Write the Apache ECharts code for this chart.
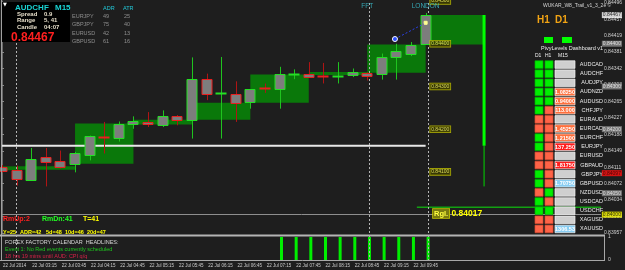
<!DOCTYPE html>
<html><head><meta charset="utf-8">
<script src="https://cdn.jsdelivr.net/npm/echarts@6/dist/echarts.min.js"></script>
<style>html,body{margin:0;padding:0;background:#1e1e1e}#c{width:625px;height:270px}</style>
</head><body><div id="c"></div>
<script>
// ---------- data ----------
const times = ['02:45','03:00','03:15','03:30','03:45','04:00','04:15','04:30','04:45','05:00','05:15','05:30','05:45','06:00','06:15','06:30','06:45','07:00','07:15','07:30','07:45','08:00','08:15','08:30','08:45','09:00','09:15','09:30','09:45','10:00'];
const open  = [0.84111,0.84105,0.84083,0.84135,0.84126,0.84119,0.84140,0.84182,0.84180,0.84211,0.84216,0.84211,0.84232,0.84222,0.84317,0.84283,0.84282,0.84262,0.84296,0.84293,0.84327,0.84330,0.84324,0.84323,0.84326,0.84332,0.84328,0.84368,0.84378,0.84398];
const close = [0.84101,0.84085,0.84131,0.84124,0.84113,0.84145,0.84185,0.84181,0.84213,0.84218,0.84211,0.84232,0.84222,0.84317,0.84283,0.84284,0.84262,0.84293,0.84294,0.84328,0.84328,0.84324,0.84323,0.84324,0.84334,0.84324,0.84368,0.84382,0.84398,0.84467];
const high  = [0.84116,0.84115,0.84156,0.84156,0.84150,0.84147,0.84185,0.84217,0.84218,0.84230,0.84240,0.84244,0.84233,0.84368,0.84330,0.84369,0.84312,0.84293,0.84307,0.84346,0.84340,0.84357,0.84355,0.84357,0.84342,0.84333,0.84377,0.84400,0.84404,0.84472];
const low   = [0.84099,0.84068,0.84082,0.84066,0.84108,0.84099,0.84127,0.84143,0.84171,0.84201,0.84205,0.84205,0.84209,0.84178,0.84268,0.84178,0.84217,0.84248,0.84285,0.84248,0.84317,0.84322,0.84307,0.84307,0.84322,0.84314,0.84316,0.84316,0.84371,0.84398];
const tickLabels = ['22 Jul 2014','22 Jul 03:15','22 Jul 03:45','22 Jul 04:15','22 Jul 04:45','22 Jul 05:15','22 Jul 05:45','22 Jul 06:15','22 Jul 06:45','22 Jul 07:15','22 Jul 07:45','22 Jul 08:15','22 Jul 08:45','22 Jul 09:15','22 Jul 09:45'];
// H1 overlay boxes (start bar index, open, close)
const hourStart = [-3,1,5,9,13,17,21,25,29];
const hourOpen  = [0.84104,0.84105,0.84119,0.84211,0.84222,0.84262,0.84330,0.84332,0.84398];
const hourClose = [0.84113,0.84113,0.84213,0.84222,0.84262,0.84328,0.84334,0.84398,0.84467];
const indicator = [0,0,0,0,0,0,0,0,0,0,0,0,0,0,0,0,0,0,0,1,1,1,1,1,1,1,1,1,1,1];
const roundLevels = [0.845,0.844,0.843,0.842,0.841,0.840];
const levelLabels = [0.845,0.844,0.843,0.842,0.841];
const gridLevels = [0.8445,0.8435,0.8425,0.8415,0.8405];
const bid = 0.84467, dailyOpen = 0.84161, dailyLow = 0.84066, rgl = 0.84017, redLevel = 0.84097;
const axisBoxValues = [bid, 0.844, 0.843, 0.842, redLevel, 0.8405, 0.840];
const axisBoxKinds  = ['w','g','g','g','r','g','y'];
const sessionIdx = [1,25,29];
const sessionNames = ['','FFT','LONDON'];
const trendX = [26.9,29.0], trendY = [0.84411,0.84449];
const dashSymbols = ['AUDCAD','AUDCHF','AUDJPY','AUDNZD','AUDUSD','CHFJPY','EURAUD','EURCAD','EURCHF','EURJPY','EURUSD','GBPAUD','GBPJPY','GBPUSD','NZDUSD','USDCAD','USDCHF','XAGUSD','XAUUSD'];
const dashD1 = [1,1,1,1,1,1,0,0,1,1,0,0,1,1,0,1,1,0,0];
const dashH1 = [1,1,1,1,1,0,0,0,0,0,0,0,0,0,1,0,1,0,0];
const dashM15Text = ['','','','1.08250','0.94000','113.000','','1.45250','1.21500','137.250','','1.81750','','1.70750','','','','','1306.53'];
const dashM15Kind = ['n','n','n','o','o','o','n','o','o','r','n','r','n','b','n','n','n','n','b'];
const infoLabels = ['Spread','Range','Candle'];
const infoValues = ['0.9','5, 41','04:07'];
const adrSymbols = ['EURJPY','GBPJPY','EURUSD','GBPUSD'];
const adrVals = [49,75,42,61];
const atrVals = [25,40,13,16];
const statsTop = ['RmUp:2','RmDn:41','T=41'];
const statsLine = ['Y=25','ADR=42','5d=48','10d=46','20d=47'];
const calendar = ['FOREX FACTORY CALENDAR  HEADLINES:','Event 1: No Red events currently scheduled','18 hrs 19 mins until AUD: CPI q/q'];

// ---------- chart ----------
const F = '"Liberation Sans", Arial, sans-serif';
const chart = echarts.init(document.getElementById('c'), null, {renderer:'canvas', width:625, height:270});

const candleData = times.map((t,i)=>[i, open[i], close[i], low[i], high[i]]);
const hourData = hourStart.map((s,i)=>[s, hourOpen[i], hourClose[i]]);

function renderCandle(params, api){
  const i = api.value(0), o = api.value(1), c = api.value(2), l = api.value(3), h = api.value(4);
  const pO = api.coord([i,o]), pC = api.coord([i,c]), pL = api.coord([i,l]), pH = api.coord([i,h]);
  const bw = Math.round(api.size([1,0])[0]*0.74);
  const bull = c >= o;
  const edge = bull ? '#24e024' : '#e82020';
  const wick = bull ? '#1fc41f' : '#b01414';
  const top = Math.min(pO[1],pC[1]), bot = Math.max(pO[1],pC[1]);
  const cx = Math.round(pO[0]);
  const x0 = cx - bw/2;
  const ch = [{type:'line', shape:{x1:cx+0.5,y1:pH[1],x2:cx+0.5,y2:pL[1]}, style:{stroke:wick,lineWidth:1}}];
  if (bot - top < 1.6) {
    ch.push({type:'line', shape:{x1:x0,y1:Math.round(top)+0.5,x2:x0+bw,y2:Math.round(top)+0.5}, style:{stroke:edge,lineWidth:2}});
  } else {
    ch.push({type:'rect', shape:{x:x0+0.5,y:Math.round(top)+0.5,width:bw-1,height:Math.round(bot-top)}, style:{fill:'#7d7d7d',stroke:edge,lineWidth:1}});
  }
  return {type:'group', children:ch};
}
function renderHour(params, api){
  const s = api.value(0), o = api.value(1), c = api.value(2);
  const a = api.coord([s, Math.max(o,c)]), b = api.coord([s+4, Math.min(o,c)]);
  let shape = {x:a[0], y:a[1], width:b[0]-a[0], height:Math.max(b[1]-a[1],3)};
  shape = echarts.graphic.clipRectByRect(shape, {x:params.coordSys.x, y:params.coordSys.y, width:params.coordSys.width, height:params.coordSys.height});
  return shape ? {type:'rect', shape, style:{fill:'#0a780a'}} : null;
}
const kindFill = {n:'#cfcfcf', o:'#ff6f3c', r:'#ff1c1c', b:'#88cdf2'};
function renderDash(params, api){
  const i = params.dataIndex;
  const yc = api.coord([0,i])[1];
  const rh = 7.6, y0 = yc - rh/2;
  const X = v => api.coord([v,i])[0];
  const cell = (a,b,fill,stroke) => ({type:'rect', shape:{x:X(a),y:y0,width:X(b)-X(a),height:rh}, style:{fill, stroke, lineWidth:0.7}});
  const ch = [
    cell(0.1,0.9, dashD1[i] ? '#00ee00' : '#ff6347', dashD1[i] ? '#00b000' : '#d84a30'),
    cell(1.1,1.9, dashH1[i] ? '#00ee00' : '#ff6347', dashH1[i] ? '#00b000' : '#d84a30'),
    cell(2.1,4.1, kindFill[dashM15Kind[i]], '#f4f4f4')
  ];
  if (dashM15Text[i]) ch.push({type:'text', x:(X(2.1)+X(4.1))/2, y:yc+0.5, style:{text:dashM15Text[i], fill:'#ffffff', fontSize:5.5, fontWeight:'bold', fontFamily:F, align:'center', verticalAlign:'middle'}});
  return {type:'group', children:ch};
}

const levelMarks = [];
gridLevels.forEach(v => levelMarks.push({yAxis:v, lineStyle:{color:'#6c6c6c', type:[2,2], width:1}}));
const gridMarkCount = levelMarks.length;
roundLevels.forEach(v => levelMarks.push({yAxis:v, lineStyle:{color:'#c4bc00', type:[2,2], width:1}}));
levelMarks.push({yAxis:redLevel, lineStyle:{color:'#c01010', type:[1,2], width:1}});
levelMarks.push({yAxis:bid, lineStyle:{color:'#8e8e8e', type:'solid', width:1}});

const boxStyle = {w:['#ffffff','#000000'], g:['#8c8c8c','#f4f4f4'], r:['#ff1010','#300000'], y:['#ffff00','#000000']};

// ---------- graphics (text & frames) ----------
const g = [];
const txt = (x,y,text,size,color,extra) => g.push({type:'text', x, y, z:60, silent:true, style:Object.assign({text, fontSize:size, fill:color, fontFamily:F, align:'left', verticalAlign:'middle'}, extra||{})});
g.push({type:'rect', z:55, silent:true, shape:{x:2,y:2,width:68,height:40}, style:{fill:'#000000'}});
g.push({type:'line', z:58, silent:true, shape:{x1:1.5,y1:0,x2:1.5,y2:261}, style:{stroke:'#a0a0a0',lineWidth:1}});
g.push({type:'rect', z:58, silent:true, shape:{x:0,y:234.5,width:605,height:2}, style:{fill:'#b4b4b4'}});
g.push({type:'line', z:58, silent:true, shape:{x1:0,y1:260.5,x2:605,y2:260.5}, style:{stroke:'#a8a8a8',lineWidth:1}});
g.push({type:'line', z:58, silent:true, shape:{x1:604.5,y1:236,x2:604.5,y2:261}, style:{stroke:'#a8a8a8',lineWidth:1}});
txt(3,4.5,'▼',5,'#ffffff',{fontFamily:'DejaVu Sans'});
txt(15,7.5,'AUDCHF',8,'#19d4d4',{fontWeight:'bold'});
txt(55,7.5,'M15',8,'#19d4d4',{fontWeight:'bold'});
infoLabels.forEach((t,i)=>{ txt(17,14+i*6.6,t,6,'#e4dcc8',{fontWeight:'bold'}); txt(44,14+i*6.6,infoValues[i],6,'#e4dcc8',{fontWeight:'bold'}); });
txt(11,37.5,bid.toFixed(5),12,'#ff2020',{fontWeight:'bold'});
txt(103,8,'ADR',5.5,'#22c8d8'); txt(123,8,'ATR',5.5,'#22c8d8');
adrSymbols.forEach((s,i)=>{ const y=16+i*8.6; txt(72,y,s,5.5,'#8e8e8e'); txt(103,y,String(adrVals[i]),5.5,'#8e8e8e'); txt(124,y,String(atrVals[i]),5.5,'#8e8e8e'); });
txt(543,6,'WUKAR_W8_Trail_v1_3_2e ©',5,'#d4d4d4');
txt(537,20,'H1',10,'#f2a414',{fontWeight:'bold'}); txt(555,20,'D1',10,'#f2a414',{fontWeight:'bold'});
g.push({type:'rect', z:60, silent:true, shape:{x:544,y:37,width:9,height:6}, style:{fill:'#00ff00'}});
g.push({type:'rect', z:60, silent:true, shape:{x:562,y:37,width:10,height:6}, style:{fill:'#00ff00'}});
txt(541,48,'PivyLevels Dashboard v1',5.5,'#ececec');
txt(535,55.5,'D1',5,'#f0f0f0'); txt(545,55.5,'H1',5,'#f0f0f0'); txt(558,55.5,'M15',5,'#f0f0f0');
txt(3,219,statsTop[0],7,'#ff2020',{fontWeight:'bold'});
txt(42,219,statsTop[1],7,'#22ff22',{fontWeight:'bold'});
txt(83,219,statsTop[2],7,'#ffff00',{fontWeight:'bold'});
[3,20,46,65,87].forEach((x,i)=>txt(x,232,statsLine[i],5.5,'#ffff00',{fontWeight:'bold'}));
txt(5,242.3,calendar[0],5.5,'#d8d8d8');
txt(5,249,calendar[1],5.5,'#1ec81e');
txt(5,256,calendar[2],5.5,'#d82048');
txt(433,213.5,'{a|Rgl.} {b|'+rgl.toFixed(5)+'}',8,'#ffff00',{rich:{a:{fontSize:7.5,fontWeight:'bold',fill:'#ffff40',backgroundColor:'#7a7a10',borderColor:'#c8c800',borderWidth:0.8,padding:[1,1,0,1],fontFamily:F},b:{fontSize:8.5,fontWeight:'bold',fill:'#ffff00',fontFamily:F}}});

const option = {
  backgroundColor:'#1e1e1e',
  animation:false,
  grid:[
    {left:2, top:1, width:602, height:232},
    {left:2, top:237, width:602, height:23},
    {left:2, top:1, width:602, height:260},
    {left:534, top:60, width:42, height:173.5}
  ],
  xAxis:[
    {gridIndex:0, type:'value', min:0, max:41, show:false},
    {gridIndex:1, type:'value', min:0, max:41, interval:2, axisLine:{show:false}, axisTick:{show:false}, splitLine:{show:false},
      axisLabel:{show:true, margin:3, align:'left', fontSize:4.5, color:'#cccccc', fontFamily:F,
        formatter:v=>{const k=Math.round(v/2); return (Math.abs(v-2*k)<1e-6 && tickLabels[k]) ? tickLabels[k] : '';}}},
    {gridIndex:2, type:'value', min:0, max:41, show:false},
    {gridIndex:3, type:'value', min:0, max:4.2, show:false}
  ],
  yAxis:[
    {gridIndex:0, type:'value', position:'right', min:0.83957, max:0.845, interval:0.000385, splitLine:{show:false},
      axisLine:{show:true, lineStyle:{color:'#6a6a6a'}}, axisTick:{show:true, length:2, lineStyle:{color:'#8a8a8a'}},
      axisLabel:{margin:3, fontSize:5, color:'#d0d0d0', fontFamily:F, showMaxLabel:false, formatter:v=>v.toFixed(5)}},
    {gridIndex:1, type:'value', position:'right', min:0, max:1, interval:1, splitLine:{show:false},
      axisLine:{show:false}, axisTick:{show:false}, axisLabel:{margin:4, fontSize:5, color:'#d0d0d0', fontFamily:F}},
    {gridIndex:2, type:'value', min:0, max:1, show:false},
    {gridIndex:3, type:'category', inverse:true, data:dashSymbols, position:'right',
      axisLine:{show:false}, axisTick:{show:false}, splitLine:{show:false},
      axisLabel:{interval:0, align:'right', margin:27, fontSize:5.5, color:'#e8e8e8', fontFamily:F}}
  ],
  series:[
    {type:'line', xAxisIndex:0, yAxisIndex:0, z:1, clip:false, data:[[0,bid]], showSymbol:false, symbol:'none', lineStyle:{opacity:0},
      markLine:{silent:true, symbol:['none','none'], animation:false, label:{show:false}, data:levelMarks.slice(0,gridMarkCount)}},
    {type:'custom', xAxisIndex:0, yAxisIndex:0, z:2, data:hourData, encode:{x:0,y:[1,2]}, renderItem:renderHour},
    {type:'line', xAxisIndex:0, yAxisIndex:0, z:3, clip:false, data:[[0,bid]], showSymbol:false, symbol:'none', lineStyle:{opacity:0},
      markLine:{silent:true, symbol:['none','none'], animation:false, label:{show:false}, data:levelMarks.slice(gridMarkCount)}},
    {type:'line', xAxisIndex:2, yAxisIndex:2, z:3, data:[[0,0]], showSymbol:false, symbol:'none', lineStyle:{opacity:0},
      markLine:{silent:true, symbol:['none','none'], animation:false, label:{show:false},
        lineStyle:{color:'#b4b4b4', type:[2,2], width:1}, data:sessionIdx.map(v=>({xAxis:v}))}},
    {type:'line', xAxisIndex:0, yAxisIndex:0, z:4, data:[[0,dailyOpen],[29,dailyOpen]], symbol:'none', lineStyle:{color:'#e8e8e8', width:2}},
    {type:'line', xAxisIndex:0, yAxisIndex:0, z:4, data:[[28.4,rgl],[41,rgl]], symbol:'none', lineStyle:{color:'#12a012', width:1.5}},
    {type:'line', xAxisIndex:0, yAxisIndex:0, z:4, data:[[33,bid],[33,dailyOpen]], symbol:'none', lineStyle:{color:'#00ff00', width:3}},
    {type:'line', xAxisIndex:0, yAxisIndex:0, z:4, data:[[33,dailyOpen],[33,dailyLow]], symbol:'none', lineStyle:{color:'#00d800', width:1}},
    {type:'custom', xAxisIndex:0, yAxisIndex:0, z:5, data:candleData, encode:{x:0,y:[1,2,3,4]}, renderItem:renderCandle},
    {type:'line', xAxisIndex:0, yAxisIndex:0, z:6, data:trendX.map((x,i)=>({value:[x,trendY[i]], symbol:i===0?'circle':'rect', symbolSize:i===0?5:3,
        itemStyle:{color:i===0?'#2a4cff':'#ffff90', borderColor:i===0?'#ffffff':'#ffff90', borderWidth:1}})),
      showSymbol:true, lineStyle:{color:'#2a40e8', width:1, type:[2,2]}},
    {type:'scatter', xAxisIndex:0, yAxisIndex:0, z:7, symbolSize:0, data:levelLabels.map(v=>[30,v]),
      label:{show:true, position:'inside', formatter:p=>p.value[1].toFixed(5), fontSize:5, fontFamily:F, color:'#ffff66',
        backgroundColor:'#3c3c00', borderColor:'#c8c800', borderWidth:0.8, padding:[1,1,0,1]}},
    {type:'scatter', xAxisIndex:0, yAxisIndex:0, z:7, symbolSize:0,
      data:sessionIdx.map((x,i)=>({name:sessionNames[i], value:[x,0.84488]})).filter(d=>d.name),
      label:{show:true, position:'inside', formatter:p=>p.name, fontSize:6.5, fontFamily:F, color:'#3cc8d8'}},
    {type:'scatter', xAxisIndex:0, yAxisIndex:0, z:30, clip:false, symbolSize:0,
      data:axisBoxValues.map((v,i)=>({value:[41.75,v], label:{backgroundColor:boxStyle[axisBoxKinds[i]][0], color:boxStyle[axisBoxKinds[i]][1]}})),
      label:{show:true, position:'inside', formatter:p=>p.value[1].toFixed(5), fontSize:5, fontFamily:F, padding:[1,1,0,1]}},
    {type:'bar', xAxisIndex:1, yAxisIndex:1, z:3, barWidth:3, data:indicator.map((v,i)=>[i,v]), itemStyle:{color:'#00ee00'}},
    {type:'custom', xAxisIndex:3, yAxisIndex:3, z:20, data:dashSymbols.map((s,i)=>[0,i]), encode:{x:0,y:1}, renderItem:renderDash}
  ],
  graphic:g
};
chart.setOption(option);
</script></body></html>
